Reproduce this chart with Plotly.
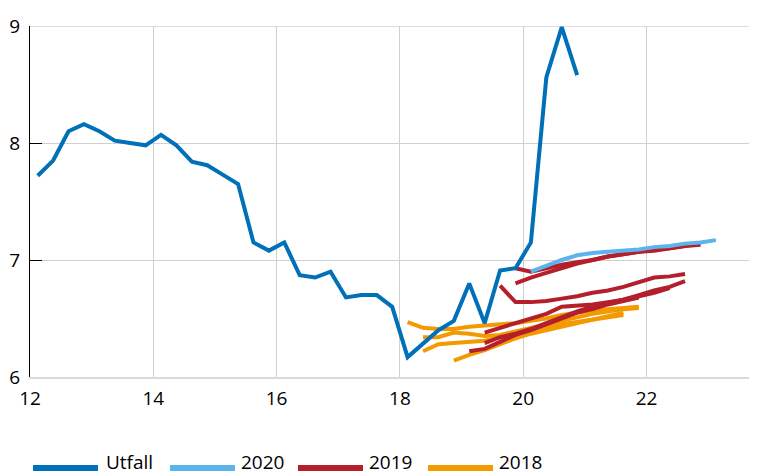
import plotly.graph_objects as go

# ---------------- data ----------------
utfall_x = [12.125, 12.375, 12.625, 12.875, 13.125, 13.375, 13.625, 13.875,
            14.125, 14.375, 14.625, 14.875, 15.125, 15.375, 15.625, 15.875,
            16.125, 16.375, 16.625, 16.875, 17.125, 17.375, 17.625, 17.875,
            18.125, 18.375, 18.625, 18.875, 19.125, 19.375, 19.625, 19.875,
            20.125, 20.375, 20.625, 20.875]
utfall_y = [7.72, 7.85, 8.10, 8.16, 8.10, 8.02, 8.00, 7.98,
            8.07, 7.98, 7.84, 7.81, 7.73, 7.65, 7.15, 7.08,
            7.15, 6.87, 6.85, 6.90, 6.68, 6.70, 6.70, 6.60,
            6.17, 6.29, 6.40, 6.48, 6.80, 6.46, 6.91, 6.93,
            7.15, 8.56, 8.99, 8.58]

# 2020 forecast
f2020_x = [20.125, 20.375, 20.625, 20.875, 21.125, 21.375, 21.625, 21.875,
           22.125, 22.375, 22.625, 22.875, 23.125]
f2020_y = [6.90, 6.95, 7.00, 7.04, 7.06, 7.07, 7.08, 7.09,
           7.11, 7.12, 7.14, 7.15, 7.17]

# 2019 forecasts
f2019a_x = [19.875, 20.125, 20.375, 20.625, 20.875, 21.125, 21.375, 21.625,
            21.875, 22.125, 22.375, 22.625, 22.875]
f2019a_y = [6.93, 6.90, 6.93, 6.96, 6.98, 7.00, 7.03, 7.05,
            7.07, 7.09, 7.10, 7.12, 7.13]
f2019b_x = [19.875, 20.125, 20.375, 20.625, 20.875, 21.125, 21.375, 21.625,
            21.875, 22.125, 22.375, 22.625, 22.875]
f2019b_y = [6.80, 6.85, 6.89, 6.93, 6.97, 7.00, 7.03, 7.05,
            7.07, 7.08, 7.10, 7.12, 7.14]
f2019c_x = [19.625, 19.875, 20.125, 20.375, 20.625, 20.875, 21.125, 21.375,
            21.625, 21.875, 22.125, 22.375, 22.625]
f2019c_y = [6.78, 6.64, 6.64, 6.65, 6.67, 6.69, 6.72, 6.74,
            6.77, 6.81, 6.85, 6.86, 6.88]
f2019d_x = [19.375, 19.625, 19.875, 20.125, 20.375, 20.625, 20.875, 21.125,
            21.375, 21.625, 21.875, 22.125, 22.375, 22.625]
f2019d_y = [6.38, 6.42, 6.46, 6.50, 6.54, 6.60, 6.61, 6.62,
            6.64, 6.66, 6.70, 6.74, 6.77, 6.82]
f2019e_x = [19.375, 19.625, 19.875, 20.125, 20.375, 20.625, 20.875, 21.125,
            21.375, 21.625, 21.875, 22.125, 22.375]
f2019e_y = [6.29, 6.34, 6.37, 6.41, 6.46, 6.51, 6.56, 6.60,
            6.63, 6.66, 6.69, 6.72, 6.76]
f2019f_x = [19.125, 19.375, 19.625, 19.875, 20.125, 20.375, 20.625, 20.875,
            21.125, 21.375, 21.625, 21.875]
f2019f_y = [6.22, 6.24, 6.30, 6.36, 6.40, 6.45, 6.50, 6.55,
            6.58, 6.62, 6.65, 6.68]

# 2018 forecasts
f2018a_x = [18.125, 18.375, 18.625, 18.875, 19.125, 19.375, 19.625, 19.875,
            20.125, 20.375, 20.625, 20.875, 21.125, 21.375, 21.625, 21.875]
f2018a_y = [6.47, 6.42, 6.41, 6.41, 6.43, 6.44, 6.45, 6.46,
            6.48, 6.50, 6.53, 6.55, 6.57, 6.58, 6.59, 6.60]
f2018b_x = [18.375, 18.625, 18.875, 19.125, 19.375, 19.625, 19.875, 20.125,
            20.375, 20.625, 20.875, 21.125, 21.375, 21.625, 21.875]
f2018b_y = [6.34, 6.34, 6.38, 6.37, 6.35, 6.36, 6.39, 6.42,
            6.45, 6.48, 6.51, 6.54, 6.56, 6.58, 6.59]
f2018c_x = [18.375, 18.625, 18.875, 19.125, 19.375, 19.625, 19.875, 20.125,
            20.375, 20.625, 20.875, 21.125, 21.375, 21.625]
f2018c_y = [6.22, 6.28, 6.29, 6.30, 6.31, 6.34, 6.37, 6.40,
            6.43, 6.45, 6.47, 6.49, 6.51, 6.53]
f2018d_x = [18.875, 19.125, 19.375, 19.625, 19.875, 20.125, 20.375, 20.625,
            20.875, 21.125, 21.375, 21.625]
f2018d_y = [6.14, 6.19, 6.23, 6.28, 6.33, 6.37, 6.40, 6.43,
            6.46, 6.49, 6.52, 6.55]

x_ticks = [12, 14, 16, 18, 20, 22]
y_ticks = [6, 7, 8, 9]
legend_names = ["Utfall", "2020", "2019", "2018"]

# ---------------- styles ----------------
C_UTF = "#0070B8"
C_2020 = "#5BB4EC"
C_2019 = "#B41F2C"
C_2018 = "#F39A00"
FONT = "Open Sans"
FS = 19
FS_LEG = 19
LW = 4

fig = go.Figure()

orange = [(f2018a_x, f2018a_y), (f2018b_x, f2018b_y), (f2018c_x, f2018c_y), (f2018d_x, f2018d_y)]
red = [(f2019f_x, f2019f_y), (f2019e_x, f2019e_y), (f2019d_x, f2019d_y),
       (f2019c_x, f2019c_y), (f2019b_x, f2019b_y), (f2019a_x, f2019a_y)]

for xs, ys in orange:
    fig.add_trace(go.Scatter(x=xs, y=ys, mode="lines", line=dict(color=C_2018, width=LW),
                             showlegend=False, hoverinfo="skip"))
for xs, ys in red:
    fig.add_trace(go.Scatter(x=xs, y=ys, mode="lines", line=dict(color=C_2019, width=LW),
                             showlegend=False, hoverinfo="skip"))
fig.add_trace(go.Scatter(x=f2020_x, y=f2020_y, mode="lines", line=dict(color=C_2020, width=LW),
                         showlegend=False, hoverinfo="skip"))
fig.add_trace(go.Scatter(x=utfall_x, y=utfall_y, mode="lines", line=dict(color=C_UTF, width=4),
                         showlegend=False, hoverinfo="skip"))
# invisible trace to show right-hand ticks
fig.add_trace(go.Scatter(x=[None], y=[None], yaxis="y2", showlegend=False, hoverinfo="skip"))

# ---------------- layout geometry (page body has an 8px margin) ----------------
OFF = 8
FW, FH = 757 - OFF, 476 - OFF
L, R, T, B = 30 - OFF, 755 - OFF, 26 - OFF, 377 - OFF
W, H = R - L, B - T
def px(xp):
    return (xp - OFF - L) / W
def py(yp):
    return (B - (yp - OFF)) / H

leg_samples = [(33, 98), (170, 235), (298, 363), (428, 493)]
leg_text_x = [104, 239, 367, 497]
leg_colors = [C_UTF, C_2020, C_2019, C_2018]
shapes = []
annotations = []
for (a, b), tx, col, name in zip(leg_samples, leg_text_x, leg_colors, legend_names):
    shapes.append(dict(type="line", xref="paper", yref="paper",
                       x0=px(a), x1=px(b), y0=py(468), y1=py(468),
                       line=dict(color=col, width=6)))
    annotations.append(dict(xref="paper", yref="paper", x=px(tx), y=py(462),
                            xanchor="left", yanchor="middle", showarrow=False,
                            text=name, font=dict(family=FONT, size=FS_LEG, color="#000000")))
# top border gridline at y=9 (Plotly hides the grid line at the range edge)
shapes.append(dict(type="line", xref="paper", yref="y", x0=0, x1=1, y0=9, y1=9,
                   line=dict(color="#d0d0d0", width=1.5), layer="below"))

fig.update_layout(
    width=FW, height=FH,
    margin=dict(l=L, r=FW - R, t=T, b=FH - B, autoexpand=False),
    paper_bgcolor="white", plot_bgcolor="white",
    font=dict(family=FONT, size=FS, color="#000000"),
    showlegend=False,
    shapes=shapes, annotations=annotations,
    xaxis=dict(range=[12, 23.76], tickvals=x_ticks, ticktext=[str(v) for v in x_ticks],
               showgrid=True, gridcolor="#d0d0d0", gridwidth=1,
               showline=True, linecolor="#d9d9d9", linewidth=2,
               ticks="", zeroline=False, ticklabelstandoff=3, automargin=False,
               tickfont=dict(family=FONT, size=FS, color="#000000")),
    yaxis=dict(range=[6, 9], tickvals=y_ticks, ticktext=[str(v) for v in y_ticks],
               showgrid=True, gridcolor="#d0d0d0", gridwidth=1,
               showline=True, linecolor="#000000", linewidth=1,
               ticks="inside", ticklen=12, tickcolor="#000000", tickwidth=1,
               zeroline=False, ticklabelstandoff=5, automargin=False,
               tickfont=dict(family=FONT, size=FS, color="#000000")),
    yaxis2=dict(range=[6, 9], tickvals=y_ticks, overlaying="y", side="right",
                showgrid=False, showline=False, zeroline=False, automargin=False,
                ticks="inside", ticklen=3, tickcolor="#404040", showticklabels=False),
)

fig.write_html("out.html")
